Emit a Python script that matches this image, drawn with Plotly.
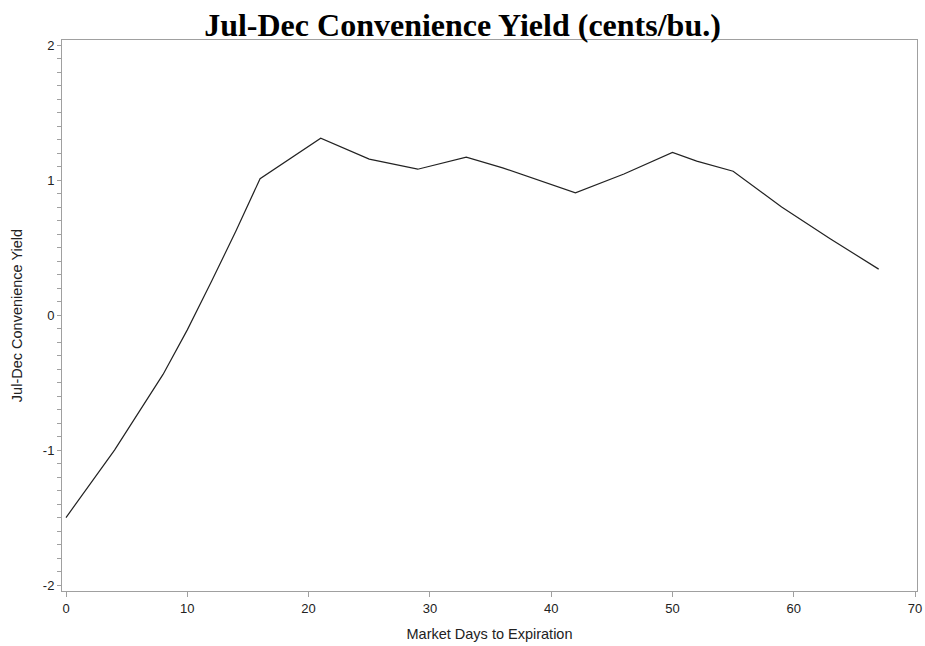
import plotly.graph_objects as go

days = [0, 4, 8, 10, 12, 14, 16, 21, 25, 29, 33, 36, 42, 46, 50, 52, 55, 59, 63, 67]
conv_yield = [-1.50, -1.00, -0.44, -0.11, 0.25, 0.62, 1.01, 1.31, 1.155, 1.08, 1.17, 1.09,
              0.905, 1.045, 1.205, 1.14, 1.065, 0.80, 0.565, 0.34]
x_ticks = [0, 10, 20, 30, 40, 50, 60, 70]
y_ticks = [-2, -1, 0, 1, 2]

fig = go.Figure()
fig.add_trace(go.Scatter(x=days, y=conv_yield, mode="lines",
                         line=dict(color="#222222", width=1.2), showlegend=False))

axis_color = "#a0a0a0"
tick_font = dict(family="Liberation Sans, Arial, sans-serif", size=13, color="#222222")
title_font = dict(family="Liberation Sans, Arial, sans-serif", size=14.5, color="#222222")

fig.update_layout(
    width=925, height=646,
    margin=dict(l=62, r=8, t=40, b=55),
    paper_bgcolor="white", plot_bgcolor="white",
    title=dict(text="<b>Jul-Dec Convenience Yield (cents/bu.)</b>",
               x=0.5, xanchor="center", y=0.962, yanchor="middle",
               font=dict(family="Liberation Serif, Times New Roman, serif", size=32, color="black")),
    xaxis=dict(range=[-0.33, 70.16], tickvals=x_ticks, ticktext=[str(v) for v in x_ticks],
               automargin=False, ticklabeloverflow="allow",
               showgrid=False, zeroline=False, showline=True, linecolor=axis_color, linewidth=1,
               mirror=True, ticks="outside", ticklen=5, tickcolor=axis_color, tickwidth=1,
               tickfont=tick_font,
               title=dict(text="Market Days to Expiration", font=title_font, standoff=14)),
    yaxis=dict(range=[-2.044, 2.037], tickvals=y_ticks, ticktext=[str(v) for v in y_ticks],
               automargin=False,
               showgrid=False, zeroline=False, showline=True, linecolor=axis_color, linewidth=1,
               mirror=True, ticks="outside", ticklen=4, tickcolor=axis_color, tickwidth=1,
               tickfont=tick_font,
               minor=dict(dtick=0.1, tick0=0, ticks="outside", ticklen=4, tickcolor=axis_color,
                          showgrid=False),
               title=dict(text="Jul-Dec Convenience Yield", font=title_font, standoff=16)),
)

fig.write_html("out.html", config={"displayModeBar": False},
               post_script="document.body.style.margin='0';document.body.style.overflow='hidden';")
